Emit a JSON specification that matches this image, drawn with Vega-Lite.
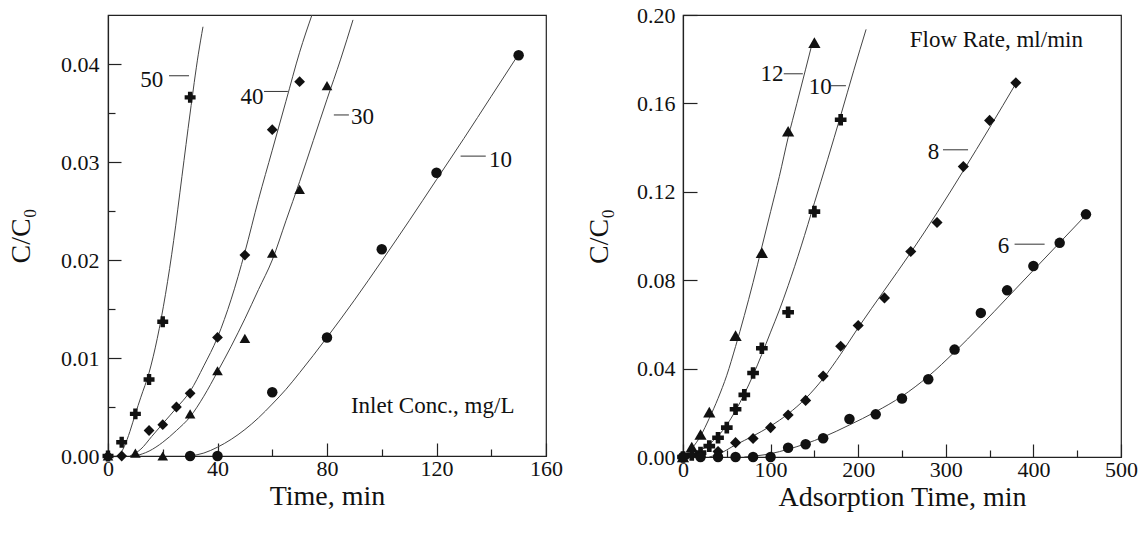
{
  "$schema": "https://vega.github.io/schema/vega-lite/v6.json",
  "background": "white",
  "padding": {"left": 6, "top": 3, "right": 5, "bottom": 5},
  "bounds": "flush",
  "spacing": 137,
  "resolve": {"scale": {"shape": "independent", "size": "independent"}},
  "config": {
    "view": {"stroke": "#222", "strokeWidth": 1.2},
    "axis": {
      "labelFont": "Liberation Serif", "titleFont": "Liberation Serif",
      "labelFontSize": 22, "titleFontSize": 28, "titleFontWeight": "normal",
      "labelColor": "#111", "titleColor": "#111",
      "domainColor": "#222", "tickColor": "#222", "domainWidth": 1.2, "tickWidth": 1.2,
      "grid": false, "labelFlush": false, "labelOverlap": false, "labelBound": false
    },
    "text": {"font": "Liberation Serif", "fontSize": 23, "color": "#111"}
  },
  "datasets": {
    "leftPts": [
      {"s": "50", "t": 0, "c": 0}, {"s": "50", "t": 5, "c": 0.0014}, {"s": "50", "t": 10, "c": 0.0043}, {"s": "50", "t": 15, "c": 0.0078}, {"s": "50", "t": 20, "c": 0.0137}, {"s": "50", "t": 30, "c": 0.0366},
      {"s": "40", "t": 0, "c": 0}, {"s": "40", "t": 5, "c": 0}, {"s": "40", "t": 15, "c": 0.0026}, {"s": "40", "t": 20, "c": 0.0032}, {"s": "40", "t": 25, "c": 0.005}, {"s": "40", "t": 30, "c": 0.0064}, {"s": "40", "t": 40, "c": 0.0121}, {"s": "40", "t": 50, "c": 0.0205}, {"s": "40", "t": 60, "c": 0.0333}, {"s": "40", "t": 70, "c": 0.0382},
      {"s": "30", "t": 0, "c": 0}, {"s": "30", "t": 10, "c": 0.0003}, {"s": "30", "t": 20, "c": 0}, {"s": "30", "t": 30, "c": 0.0043}, {"s": "30", "t": 40, "c": 0.0087}, {"s": "30", "t": 50, "c": 0.012}, {"s": "30", "t": 60, "c": 0.0207}, {"s": "30", "t": 70, "c": 0.0272}, {"s": "30", "t": 80, "c": 0.0378},
      {"s": "10", "t": 30, "c": 0}, {"s": "10", "t": 40, "c": 0}, {"s": "10", "t": 60, "c": 0.0065}, {"s": "10", "t": 80, "c": 0.0121}, {"s": "10", "t": 100, "c": 0.0211}, {"s": "10", "t": 120, "c": 0.0289}, {"s": "10", "t": 150, "c": 0.0409}
    ],
    "leftCurves": [
      {"s": "50", "t": 4, "c": 0}, {"s": "50", "t": 6, "c": 0.001}, {"s": "50", "t": 8, "c": 0.0025}, {"s": "50", "t": 10, "c": 0.0043}, {"s": "50", "t": 12, "c": 0.006}, {"s": "50", "t": 15, "c": 0.0085}, {"s": "50", "t": 18, "c": 0.012}, {"s": "50", "t": 21, "c": 0.0165}, {"s": "50", "t": 24, "c": 0.022}, {"s": "50", "t": 27, "c": 0.0285}, {"s": "50", "t": 30, "c": 0.035}, {"s": "50", "t": 33, "c": 0.041}, {"s": "50", "t": 34.7, "c": 0.0438},
      {"s": "40", "t": 8, "c": 0}, {"s": "40", "t": 12, "c": 0.0007}, {"s": "40", "t": 16, "c": 0.002}, {"s": "40", "t": 20, "c": 0.0033}, {"s": "40", "t": 25, "c": 0.0049}, {"s": "40", "t": 30, "c": 0.0066}, {"s": "40", "t": 35, "c": 0.0092}, {"s": "40", "t": 40, "c": 0.0121}, {"s": "40", "t": 45, "c": 0.016}, {"s": "40", "t": 50, "c": 0.0208}, {"s": "40", "t": 55, "c": 0.0262}, {"s": "40", "t": 60, "c": 0.0312}, {"s": "40", "t": 65, "c": 0.0362}, {"s": "40", "t": 70, "c": 0.0412}, {"s": "40", "t": 74.5, "c": 0.045},
      {"s": "30", "t": 10, "c": 0}, {"s": "30", "t": 15, "c": 0.0005}, {"s": "30", "t": 20, "c": 0.0014}, {"s": "30", "t": 25, "c": 0.0026}, {"s": "30", "t": 30, "c": 0.004}, {"s": "30", "t": 35, "c": 0.0061}, {"s": "30", "t": 40, "c": 0.0086}, {"s": "30", "t": 45, "c": 0.0112}, {"s": "30", "t": 50, "c": 0.014}, {"s": "30", "t": 55, "c": 0.017}, {"s": "30", "t": 60, "c": 0.02}, {"s": "30", "t": 65, "c": 0.024}, {"s": "30", "t": 70, "c": 0.028}, {"s": "30", "t": 75, "c": 0.0322}, {"s": "30", "t": 80, "c": 0.0364}, {"s": "30", "t": 85, "c": 0.0405}, {"s": "30", "t": 89.5, "c": 0.0445},
      {"s": "10", "t": 30, "c": 0}, {"s": "10", "t": 35, "c": 0.0003}, {"s": "10", "t": 40, "c": 0.0009}, {"s": "10", "t": 45, "c": 0.0017}, {"s": "10", "t": 50, "c": 0.0027}, {"s": "10", "t": 55, "c": 0.0039}, {"s": "10", "t": 60, "c": 0.0053}, {"s": "10", "t": 65, "c": 0.0068}, {"s": "10", "t": 70, "c": 0.0085}, {"s": "10", "t": 80, "c": 0.0121}, {"s": "10", "t": 90, "c": 0.0159}, {"s": "10", "t": 100, "c": 0.0199}, {"s": "10", "t": 110, "c": 0.024}, {"s": "10", "t": 120, "c": 0.0282}, {"s": "10", "t": 130, "c": 0.0324}, {"s": "10", "t": 140, "c": 0.0367}, {"s": "10", "t": 150, "c": 0.041}
    ],
    "leftLeaders": [
      {"a": 22.3, "b": 29.6, "c": 0.0388}, {"a": 57, "b": 65.7, "c": 0.0372}, {"a": 82.5, "b": 88, "c": 0.0348}, {"a": 128.8, "b": 138, "c": 0.0306}
    ],
    "leftLabels": [
      {"t": 16, "c": 0.0384, "label": "50"}, {"t": 52.6, "c": 0.0366, "label": "40"}, {"t": 93, "c": 0.0346, "label": "30"}, {"t": 143.4, "c": 0.0302, "label": "10"}, {"t": 118.6, "c": 0.0051, "label": "Inlet Conc., mg/L"}
    ],
    "rightPts": [
      {"s": "12", "t": 0, "c": 0}, {"s": "12", "t": 10, "c": 0.0045}, {"s": "12", "t": 20, "c": 0.0102}, {"s": "12", "t": 30, "c": 0.0203}, {"s": "12", "t": 60, "c": 0.0549}, {"s": "12", "t": 90, "c": 0.0925}, {"s": "12", "t": 120, "c": 0.1474}, {"s": "12", "t": 150, "c": 0.1875},
      {"s": "10", "t": 0, "c": 0}, {"s": "10", "t": 10, "c": 0.001}, {"s": "10", "t": 20, "c": 0.002}, {"s": "10", "t": 30, "c": 0.0049}, {"s": "10", "t": 40, "c": 0.0087}, {"s": "10", "t": 50, "c": 0.0133}, {"s": "10", "t": 60, "c": 0.0216}, {"s": "10", "t": 70, "c": 0.0281}, {"s": "10", "t": 80, "c": 0.038}, {"s": "10", "t": 90, "c": 0.0492}, {"s": "10", "t": 120, "c": 0.0655}, {"s": "10", "t": 150, "c": 0.111}, {"s": "10", "t": 180, "c": 0.1526},
      {"s": "8", "t": 0, "c": 0}, {"s": "8", "t": 20, "c": 0.0005}, {"s": "8", "t": 40, "c": 0.0025}, {"s": "8", "t": 60, "c": 0.0065}, {"s": "8", "t": 80, "c": 0.0084}, {"s": "8", "t": 100, "c": 0.0133}, {"s": "8", "t": 120, "c": 0.019}, {"s": "8", "t": 140, "c": 0.0256}, {"s": "8", "t": 160, "c": 0.0366}, {"s": "8", "t": 180, "c": 0.0501}, {"s": "8", "t": 200, "c": 0.0595}, {"s": "8", "t": 230, "c": 0.072}, {"s": "8", "t": 260, "c": 0.093}, {"s": "8", "t": 290, "c": 0.1061}, {"s": "8", "t": 320, "c": 0.1314}, {"s": "8", "t": 350, "c": 0.1523}, {"s": "8", "t": 380, "c": 0.1693},
      {"s": "6", "t": 0, "c": 0}, {"s": "6", "t": 20, "c": 0}, {"s": "6", "t": 40, "c": 0}, {"s": "6", "t": 60, "c": 0}, {"s": "6", "t": 80, "c": 0}, {"s": "6", "t": 100, "c": 0}, {"s": "6", "t": 120, "c": 0.0042}, {"s": "6", "t": 140, "c": 0.0058}, {"s": "6", "t": 160, "c": 0.0085}, {"s": "6", "t": 190, "c": 0.0172}, {"s": "6", "t": 220, "c": 0.0193}, {"s": "6", "t": 250, "c": 0.0265}, {"s": "6", "t": 280, "c": 0.0352}, {"s": "6", "t": 310, "c": 0.0486}, {"s": "6", "t": 340, "c": 0.0652}, {"s": "6", "t": 370, "c": 0.0754}, {"s": "6", "t": 400, "c": 0.0864}, {"s": "6", "t": 430, "c": 0.0969}, {"s": "6", "t": 460, "c": 0.1098}
    ],
    "rightCurves": [
      {"s": "12", "t": 0, "c": 0}, {"s": "12", "t": 10, "c": 0.0038}, {"s": "12", "t": 20, "c": 0.0095}, {"s": "12", "t": 30, "c": 0.0175}, {"s": "12", "t": 40, "c": 0.0265}, {"s": "12", "t": 50, "c": 0.037}, {"s": "12", "t": 60, "c": 0.05}, {"s": "12", "t": 70, "c": 0.064}, {"s": "12", "t": 80, "c": 0.079}, {"s": "12", "t": 90, "c": 0.095}, {"s": "12", "t": 100, "c": 0.111}, {"s": "12", "t": 110, "c": 0.127}, {"s": "12", "t": 120, "c": 0.1445}, {"s": "12", "t": 130, "c": 0.16}, {"s": "12", "t": 140, "c": 0.1755}, {"s": "12", "t": 148, "c": 0.188},
      {"s": "10", "t": 5, "c": 0}, {"s": "10", "t": 20, "c": 0.003}, {"s": "10", "t": 30, "c": 0.0058}, {"s": "10", "t": 40, "c": 0.0095}, {"s": "10", "t": 50, "c": 0.0145}, {"s": "10", "t": 60, "c": 0.021}, {"s": "10", "t": 70, "c": 0.0285}, {"s": "10", "t": 80, "c": 0.037}, {"s": "10", "t": 90, "c": 0.0465}, {"s": "10", "t": 100, "c": 0.0565}, {"s": "10", "t": 110, "c": 0.0665}, {"s": "10", "t": 120, "c": 0.0775}, {"s": "10", "t": 135, "c": 0.0955}, {"s": "10", "t": 150, "c": 0.115}, {"s": "10", "t": 165, "c": 0.1345}, {"s": "10", "t": 180, "c": 0.1545}, {"s": "10", "t": 195, "c": 0.175}, {"s": "10", "t": 209, "c": 0.1935},
      {"s": "8", "t": 30, "c": 0}, {"s": "8", "t": 40, "c": 0.0012}, {"s": "8", "t": 60, "c": 0.0055}, {"s": "8", "t": 80, "c": 0.0095}, {"s": "8", "t": 100, "c": 0.014}, {"s": "8", "t": 120, "c": 0.0195}, {"s": "8", "t": 140, "c": 0.0265}, {"s": "8", "t": 160, "c": 0.0355}, {"s": "8", "t": 180, "c": 0.0465}, {"s": "8", "t": 200, "c": 0.0585}, {"s": "8", "t": 230, "c": 0.0755}, {"s": "8", "t": 260, "c": 0.0925}, {"s": "8", "t": 290, "c": 0.1105}, {"s": "8", "t": 320, "c": 0.1295}, {"s": "8", "t": 350, "c": 0.149}, {"s": "8", "t": 380, "c": 0.169},
      {"s": "6", "t": 70, "c": 0}, {"s": "6", "t": 100, "c": 0.0015}, {"s": "6", "t": 120, "c": 0.0035}, {"s": "6", "t": 140, "c": 0.006}, {"s": "6", "t": 160, "c": 0.009}, {"s": "6", "t": 190, "c": 0.0145}, {"s": "6", "t": 220, "c": 0.0205}, {"s": "6", "t": 250, "c": 0.0275}, {"s": "6", "t": 280, "c": 0.0365}, {"s": "6", "t": 310, "c": 0.0475}, {"s": "6", "t": 340, "c": 0.0595}, {"s": "6", "t": 370, "c": 0.072}, {"s": "6", "t": 400, "c": 0.0845}, {"s": "6", "t": 430, "c": 0.097}, {"s": "6", "t": 460, "c": 0.1095}
    ],
    "rightLeaders": [
      {"a": 115, "b": 136.8, "c": 0.1734}, {"a": 169, "b": 186, "c": 0.168}, {"a": 296.8, "b": 325.4, "c": 0.139}, {"a": 378.5, "b": 412.8, "c": 0.0963}
    ],
    "rightLabels": [
      {"t": 101.7, "c": 0.1734, "label": "12"}, {"t": 156.6, "c": 0.1674, "label": "10"}, {"t": 286, "c": 0.138, "label": "8"}, {"t": 366, "c": 0.0955, "label": "6"}, {"t": 357.7, "c": 0.1885, "label": "Flow Rate, ml/min"}
    ]
  },
  "hconcat": [
    {
      "width": 438, "height": 441,
      "layer": [
        {
          "data": {"name": "leftCurves"},
          "mark": {"type": "line", "color": "#444", "strokeWidth": 1, "interpolate": "monotone"},
          "encoding": {
            "x": {"field": "t", "type": "quantitative", "scale": {"domain": [0, 160], "nice": false},
              "axis": {"title": "Time, min", "values": [0, 20, 40, 60, 80, 100, 120, 140, 160],
                "labelExpr": "datum.value % 40 === 0 ? datum.label : ''",
                "tickSize": {"condition": {"test": "datum.value % 40 === 0", "value": -13}, "value": -7},
                "labelPadding": 15, "titlePadding": -3}},
            "y": {"field": "c", "type": "quantitative", "scale": {"domain": [0, 0.045], "nice": false},
              "axis": {"title": "C/C₀", "format": ".2f", "values": [0, 0.005, 0.01, 0.015, 0.02, 0.025, 0.03, 0.035, 0.04],
                "labelExpr": "abs(datum.value * 100 - round(datum.value * 100)) < 0.01 ? format(datum.value, '.2f') : ''",
                "tickSize": {"condition": {"test": "abs(datum.value * 100 - round(datum.value * 100)) < 0.01", "value": -13}, "value": -7},
                "labelPadding": 22, "titlePadding": 25}},
            "detail": {"field": "s"}
          }
        },
        {
          "data": {"name": "leftPts"},
          "mark": {"type": "point", "filled": true, "color": "#111", "opacity": 1},
          "encoding": {
            "x": {"field": "t", "type": "quantitative", "scale": {"domain": [0, 160], "nice": false}},
            "y": {"field": "c", "type": "quantitative", "scale": {"domain": [0, 0.045], "nice": false}},
            "shape": {"field": "s", "type": "nominal", "scale": {"domain": ["50", "40", "30", "10"], "range": ["cross", "diamond", "triangle-up", "circle"]}, "legend": null},
            "size": {"field": "s", "type": "nominal", "scale": {"domain": ["50", "40", "30", "10"], "range": [120, 110, 170, 125]}, "legend": null}
          }
        },
        {
          "data": {"name": "leftLeaders"},
          "mark": {"type": "rule", "color": "#333", "strokeWidth": 1},
          "encoding": {
            "x": {"field": "a", "type": "quantitative", "scale": {"domain": [0, 160], "nice": false}},
            "x2": {"field": "b"},
            "y": {"field": "c", "type": "quantitative", "scale": {"domain": [0, 0.045], "nice": false}}
          }
        },
        {
          "data": {"name": "leftLabels"},
          "mark": {"type": "text", "align": "center", "baseline": "middle"},
          "encoding": {
            "x": {"field": "t", "type": "quantitative", "scale": {"domain": [0, 160], "nice": false}},
            "y": {"field": "c", "type": "quantitative", "scale": {"domain": [0, 0.045], "nice": false}},
            "text": {"field": "label"}
          }
        }
      ]
    },
    {
      "width": 438, "height": 442,
      "layer": [
        {
          "data": {"name": "rightCurves"},
          "mark": {"type": "line", "color": "#444", "strokeWidth": 1, "interpolate": "monotone"},
          "encoding": {
            "x": {"field": "t", "type": "quantitative", "scale": {"domain": [0, 500], "nice": false},
              "axis": {"title": "Adsorption Time, min", "values": [0, 50, 100, 150, 200, 250, 300, 350, 400, 450, 500],
                "labelExpr": "datum.value % 100 === 0 ? datum.label : ''",
                "tickSize": {"condition": {"test": "datum.value % 100 === 0", "value": -13}, "value": -7},
                "labelPadding": 15, "titlePadding": -3}},
            "y": {"field": "c", "type": "quantitative", "scale": {"domain": [0, 0.2], "nice": false},
              "axis": {"title": "C/C₀", "format": ".2f", "values": [0, 0.04, 0.08, 0.12, 0.16, 0.2],
                "tickSize": -14, "labelPadding": 22, "titlePadding": 23}},
            "detail": {"field": "s"}
          }
        },
        {
          "data": {"name": "rightPts"},
          "mark": {"type": "point", "filled": true, "color": "#111", "opacity": 1},
          "encoding": {
            "x": {"field": "t", "type": "quantitative", "scale": {"domain": [0, 500], "nice": false}},
            "y": {"field": "c", "type": "quantitative", "scale": {"domain": [0, 0.2], "nice": false}},
            "shape": {"field": "s", "type": "nominal", "scale": {"domain": ["12", "10", "8", "6"], "range": ["triangle-up", "cross", "diamond", "circle"]}, "legend": null},
            "size": {"field": "s", "type": "nominal", "scale": {"domain": ["12", "10", "8", "6"], "range": [150, 110, 95, 110]}, "legend": null}
          }
        },
        {
          "data": {"name": "rightLeaders"},
          "mark": {"type": "rule", "color": "#333", "strokeWidth": 1},
          "encoding": {
            "x": {"field": "a", "type": "quantitative", "scale": {"domain": [0, 500], "nice": false}},
            "x2": {"field": "b"},
            "y": {"field": "c", "type": "quantitative", "scale": {"domain": [0, 0.2], "nice": false}}
          }
        },
        {
          "data": {"name": "rightLabels"},
          "mark": {"type": "text", "align": "center", "baseline": "middle"},
          "encoding": {
            "x": {"field": "t", "type": "quantitative", "scale": {"domain": [0, 500], "nice": false}},
            "y": {"field": "c", "type": "quantitative", "scale": {"domain": [0, 0.2], "nice": false}},
            "text": {"field": "label"}
          }
        }
      ]
    }
  ]
}
